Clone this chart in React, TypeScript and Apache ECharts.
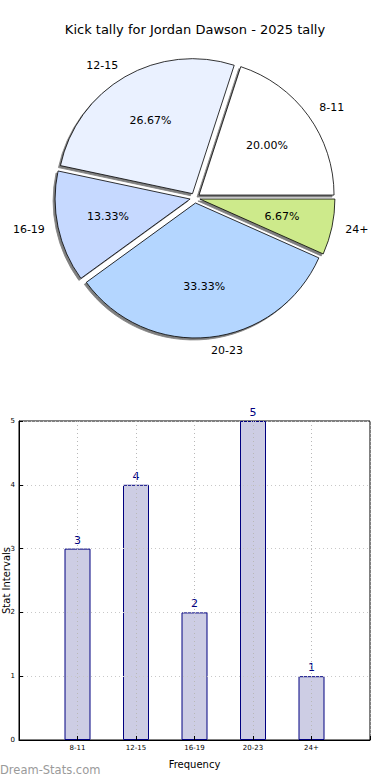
import React, { useEffect, useRef } from "react";
import * as echarts from "echarts";

const TITLE = "Kick tally for Jordan Dawson - 2025 tally";
const categories = ["8-11", "12-15", "16-19", "20-23", "24+"];
const kicks = [3, 4, 2, 5, 1];
const sliceColors = ["#ffffff", "#eaf1ff", "#c6d9ff", "#b4d6ff", "#cdea8b"];
const yTicks = [0, 1, 2, 3, 4, 5];

const FONT = "DejaVu Sans";

export default function App() {
  const ref = useRef<HTMLDivElement>(null);
  useEffect(() => {
    if (!ref.current) return;
    const chart = echarts.init(ref.current, null, { renderer: "svg" });
    const total = kicks.reduce((a, b) => a + b, 0);
    const R = 135;
    const C = [195, 198];
    const pieData = categories.map((c, i) => ({
      name: c,
      value: kicks[i],
      selected: true,
      itemStyle: { color: sliceColors[i] },
    }));
    chart.setOption({
      animation: false,
      textStyle: { fontFamily: FONT },
      title: {
        text: TITLE,
        left: "center",
        top: 18,
        textStyle: { fontFamily: FONT, fontSize: 13, fontWeight: "normal", color: "#000" },
      },
      graphic: [
        {
          type: "text",
          left: 0,
          top: 764,
          style: {
            text: "Dream-Stats.com",
            fontFamily: FONT,
            fontSize: 11.5,
            fontWeight: "normal",
            fill: "#9a9a9a",
          },
        },
      ],
      grid: {
        left: 19,
        right: 20,
        top: 421,
        bottom: 40,
        show: true,
        borderColor: "#000",
        borderWidth: 1,
        backgroundColor: "transparent",
        containLabel: false,
        outerBoundsMode: "none",
      },
      xAxis: {
        type: "value",
        min: -1,
        max: 5,
        interval: 1,
        z: 5,
        name: "Frequency",
        nameLocation: "middle",
        nameGap: 19,
        nameMoveOverlap: false,
        nameTextStyle: { fontFamily: FONT, fontSize: 10, color: "#000" },
        axisLine: { show: true, onZero: false, lineStyle: { color: "#000" } },
        axisTick: { show: true, inside: true, length: 4, lineStyle: { color: "#000" } },
        axisLabel: {
          fontFamily: FONT,
          fontSize: 7,
          color: "#000",
          margin: 4,
          formatter: (v: number) => (categories[v] !== undefined ? categories[v] : ""),
        },
        splitLine: { show: true, lineStyle: { color: "#b8b8b8", type: [1, 3] } },
      },
      yAxis: {
        type: "value",
        min: 0,
        max: 5,
        interval: 1,
        z: 5,
        name: "Stat Intervals",
        nameLocation: "middle",
        nameGap: 8,
        nameMoveOverlap: false,
        nameTextStyle: { fontFamily: FONT, fontSize: 10, color: "#000" },
        axisLine: { show: true, onZero: false, lineStyle: { color: "#000" } },
        axisTick: { show: true, inside: true, length: 4, lineStyle: { color: "#000" } },
        axisLabel: {
          fontFamily: FONT,
          fontSize: 7,
          color: "#000",
          margin: 4,
          formatter: (v: number) => (yTicks.includes(v) ? String(v) : ""),
        },
        splitLine: { show: true, lineStyle: { color: "#c8c8c8", type: [1, 3] } },
      },
      series: [
        {
          type: "pie",
          center: C,
          radius: R,
          startAngle: 0,
          clockwise: false,
          selectedMode: "multiple",
          selectedOffset: 5,
          avoidLabelOverlap: false,
          data: pieData,
          itemStyle: {
            borderColor: "#000",
            borderWidth: 0.8,
            shadowColor: "rgba(0,0,0,0.5)",
            shadowOffsetX: -2,
            shadowOffsetY: 2,
            shadowBlur: 0,
          },
          emphasis: { disabled: true },
          label: {
            show: true,
            position: "outside",
            formatter: "{b}",
            fontFamily: FONT,
            fontSize: 11,
            color: "#000",
            distanceToLabelLine: 0,
          },
          labelLine: { show: false, length: 13.5, length2: 0 },
        },
        {
          type: "pie",
          center: C,
          radius: R * 1.2,
          startAngle: 0,
          clockwise: false,
          selectedMode: "multiple",
          selectedOffset: 5,
          silent: true,
          avoidLabelOverlap: false,
          data: categories.map((c, i) => ({ name: c, value: kicks[i], selected: true })),
          itemStyle: { color: "transparent", borderWidth: 0 },
          emphasis: { disabled: true },
          label: {
            show: true,
            position: "inside",
            fontFamily: FONT,
            fontSize: 11,
            color: "#000",
            formatter: (p: any) => ((p.value / total) * 100).toFixed(2) + "%",
          },
          labelLine: { show: false },
        },
        {
          type: "bar",
          data: kicks.map((v, i) => [i, v]),
          barWidth: 26,
          itemStyle: { color: "#cdcde4", borderColor: "#000080", borderWidth: 1 },
          label: {
            show: true,
            position: "top",
            distance: 3,
            fontFamily: FONT,
            fontSize: 11,
            color: "#000080",
          },
          emphasis: { disabled: true },
        },
      ],
    });
    return () => chart.dispose();
  }, []);
  return (
    <div
      ref={ref}
      style={{ position: "fixed", left: 0, top: 0, width: 390, height: 780, background: "#fff" }}
    />
  );
}
